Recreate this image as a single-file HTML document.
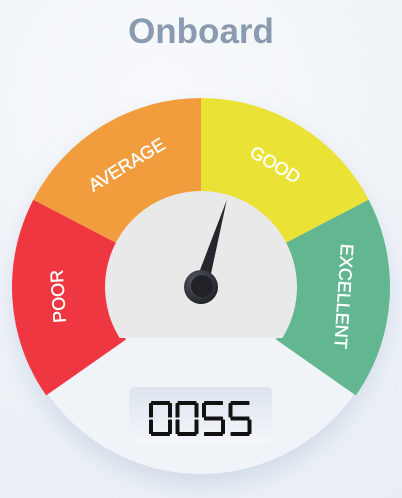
<!DOCTYPE html>
<html><head><meta charset="utf-8"><style>
html,body{margin:0;padding:0;width:402px;height:498px;overflow:hidden;background:radial-gradient(circle at 40% 20%,#f8fafc 0%,#eef2f7 60%,#e9eef5 100%);font-family:"Liberation Sans",sans-serif}
#title{position:absolute;left:0;top:12px;width:402px;text-align:center;font-size:35px;font-weight:bold;color:#8a9bb0}
</style></head><body>
<div id="title">Onboard</div>
<svg id="g" width="402" height="498" style="position:absolute;left:0;top:0">
<defs>
<filter id="sh" x="-20%" y="-20%" width="140%" height="140%"><feDropShadow dx="0" dy="10" stdDeviation="12" flood-color="#b8c6da" flood-opacity="0.55"/></filter>
<linearGradient id="lcd" x1="0" y1="0" x2="0" y2="1"><stop offset="0" stop-color="#dde4ee"/><stop offset="1" stop-color="#f3f6fa"/></linearGradient>
<radialGradient id="hub" cx="0.4" cy="0.35" r="0.7"><stop offset="0" stop-color="#5a5f68"/><stop offset="1" stop-color="#1d1f24"/></radialGradient>
</defs>
</svg>
<script>
const segLabels=["POOR","AVERAGE","GOOD","EXCELLENT"];
const segColors=["#ef3742","#f19d3e","#ebe236","#63b790"];
const gaugeMin=0, gaugeMax=100;
const gaugeValue=55;
const displayText="0055";

const NS="http://www.w3.org/2000/svg";
const svg=document.getElementById('g');
const cx=201, cy=287, R=189, r=96, startA=-125, endA=125;
function ang(v){return startA+(v-gaugeMin)/(gaugeMax-gaugeMin)*(endA-startA);}
function pt(a,rad){const t=a*Math.PI/180;return [cx+rad*Math.sin(t),cy-rad*Math.cos(t)];}
function mk(tag,attrs){const e=document.createElementNS(NS,tag);for(const k in attrs)e.setAttribute(k,attrs[k]);svg.appendChild(e);return e;}

const bg=mk('circle',{cx:cx,cy:cy,r:R-2,fill:'#f0f3f8',filter:'url(#sh)'});



const n=segLabels.length, step=(endA-startA)/n;
segLabels.forEach((lab,i)=>{
  const a0=startA+i*step,a1=a0+step;
  const p0=pt(a0,R),p1=pt(a1,R),q1=pt(a1,r-4),q0=pt(a0,r-4);
  const p=mk('path',{d:`M${p0[0]},${p0[1]} A${R},${R} 0 0 1 ${p1[0]},${p1[1]} L${q1[0]},${q1[1]} L${q0[0]},${q0[1]} Z`,fill:segColors[i]});
  
  
  const m=(a0+a1)/2, lp=pt(m,143);
  const t=mk('text',{x:lp[0],y:lp[1],fill:'#fff','font-size':18,'text-anchor':'middle','dominant-baseline':'central','font-family':'Liberation Sans, sans-serif',stroke:'#fff','stroke-width':0.4,transform:`rotate(${m} ${lp[0]} ${lp[1]})`});
  t.textContent=lab;
  
  
});
const cutY=338, dx=Math.sqrt(r*r-(cutY-cy)*(cutY-cy));
const inner=mk('path',{d:`M${cx-dx},${cutY} A${r},${r} 0 1 1 ${cx+dx},${cutY} Z`,fill:'#e9e9e9'});


const na=ang(gaugeValue)+4, tip=pt(na,91), b1=pt(na-90,7), b2=pt(na+90,7);
const nd=mk('path',{d:`M${b1[0]},${b1[1]} L${tip[0]},${tip[1]} L${b2[0]},${b2[1]} Z`,fill:'#25272c'});


const hub=mk('circle',{cx:cx,cy:cy,r:17,fill:'url(#hub)'});


const hub2=mk('circle',{cx:cx+1,cy:cy-1,r:11,fill:'#202227'});


const box=mk('rect',{x:129,y:387,width:143,height:57,rx:6,fill:'url(#lcd)'});


// 7-seg digits
const SEG={'0':'abcdef','1':'bc','2':'abged','3':'abgcd','4':'fgbc','5':'afgcd','6':'afgedc','7':'abc','8':'abcdefg','9':'abcdfg'};
const dw=23, dh=35, th=4, x0=149, y0=401, gap=26.5;
function segRect(s,x,y){
  const h=dh/2;
  switch(s){
    case 'a':return [x+2,y,dw-4,th];
    case 'g':return [x+2,y+h-th/2,dw-4,th];
    case 'd':return [x+2,y+dh-th,dw-4,th];
    case 'f':return [x,y+2,th,h-3];
    case 'e':return [x,y+h+1,th,h-3];
    case 'b':return [x+dw-th,y+2,th,h-3];
    case 'c':return [x+dw-th,y+h+1,th,h-3];
  }
}
displayText.split('').forEach((ch,i)=>{
  const x=x0+i*gap;
  (SEG[ch]||'').split('').forEach(s=>{
    const [rx,ry,rw,rh]=segRect(s,x,y0);
    const sg=mk('rect',{x:rx,y:ry,width:rw,height:rh,fill:'#111',rx:0.8});
    
    
  });
});
const vt=mk('text',{x:200,y:418,'text-anchor':'middle','dominant-baseline':'central','font-size':40,'font-family':'Liberation Mono, monospace',fill:'transparent'});
vt.textContent=displayText;


</script>
</body></html>
